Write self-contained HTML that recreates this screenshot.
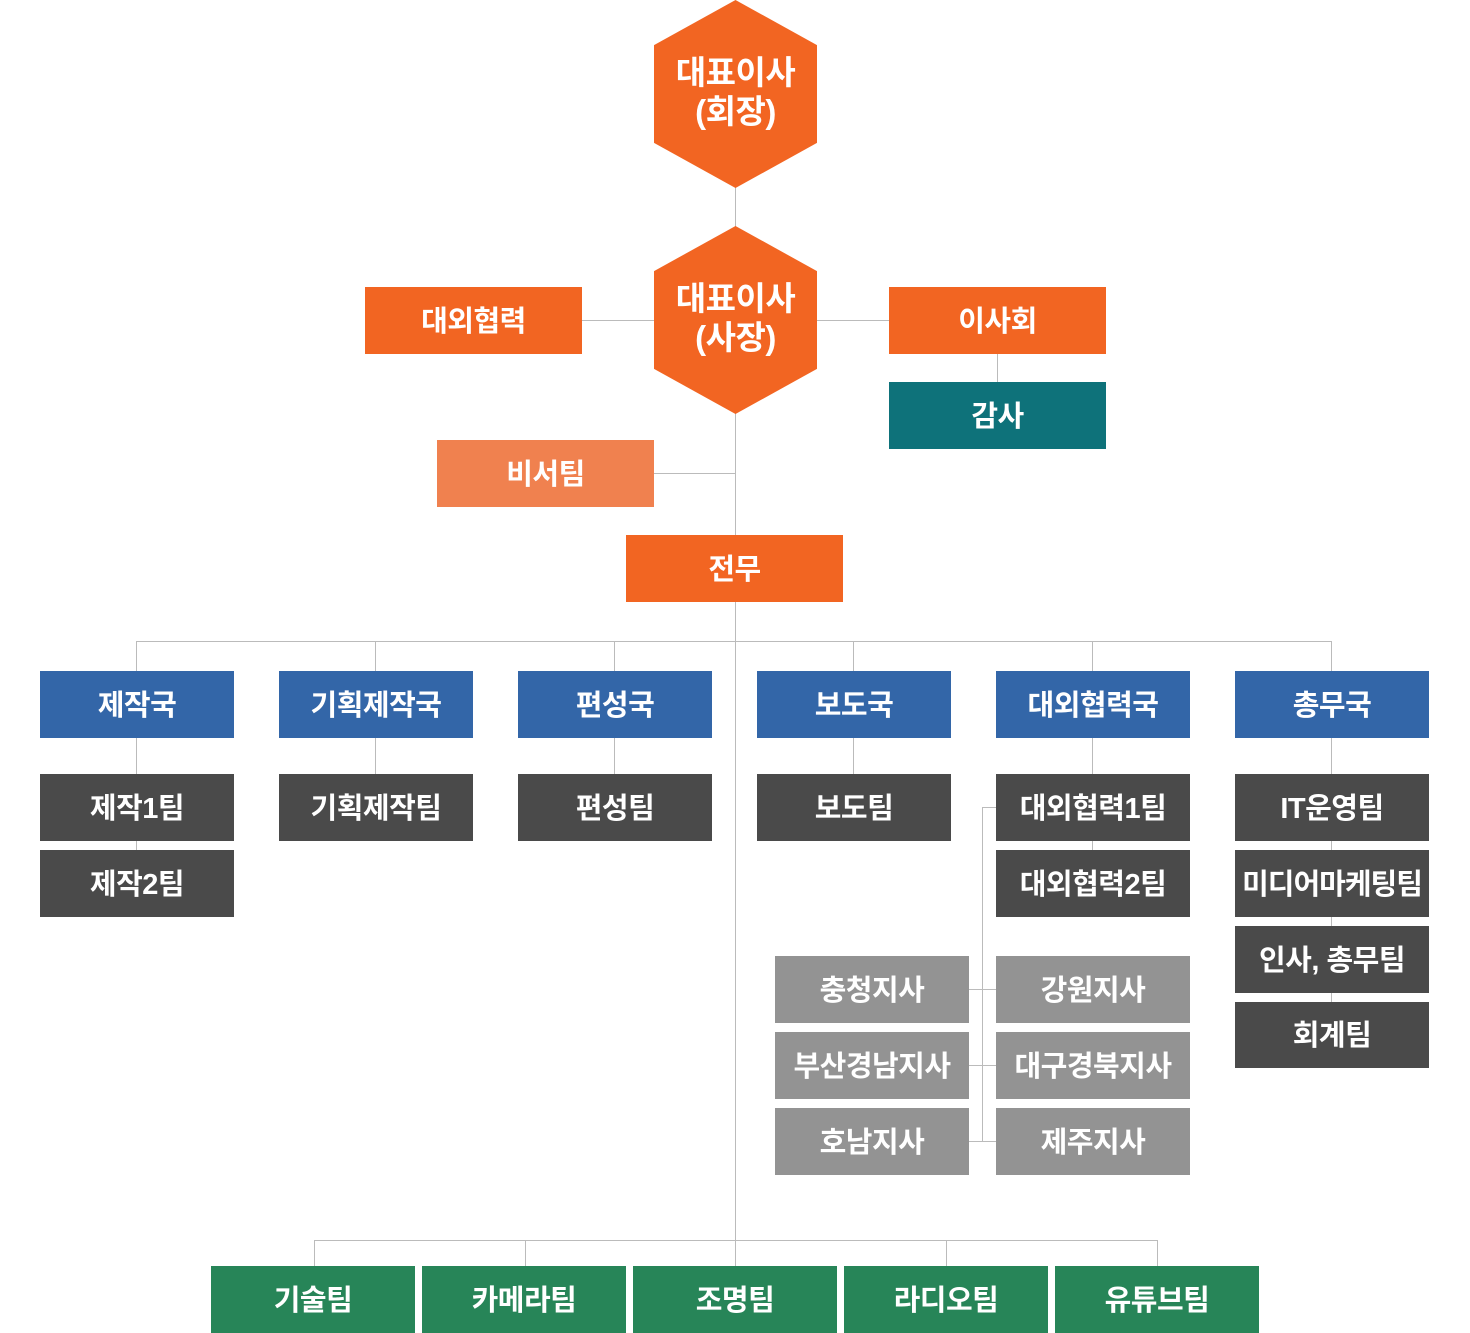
<!DOCTYPE html><html><head><meta charset="utf-8"><style>
body{margin:0;width:1470px;height:1333px;background:#fff;position:relative;overflow:hidden;font-family:"Liberation Sans","Noto Sans CJK KR",sans-serif}
.b{position:absolute;display:flex;align-items:center;justify-content:center;color:#fff;font-weight:bold;font-size:29px;letter-spacing:-0.5px;box-sizing:border-box;padding-bottom:4px}
.l{position:absolute;background:#bbb}
.o{background:#f26522}.lo{background:#f0814f}.t{background:#0e727a}.bl{background:#3366a8}.d{background:#4a4a4a}.g{background:#939393}.gr{background:#278558}
.hx{position:absolute;width:163px;height:188px;background:#f26522;clip-path:polygon(50% 0,100% 24%,100% 76%,50% 100%,0 76%,0 24%);display:flex;align-items:center;justify-content:center;text-align:center;color:#fff;font-weight:bold;font-size:33px;line-height:39px;letter-spacing:-0.5px;box-sizing:border-box;padding-bottom:4px}
</style></head><body>
<div class="l" style="left:735px;top:180px;width:1px;height:1090px"></div>
<div class="l" style="left:582px;top:320px;width:307px;height:1px"></div>
<div class="l" style="left:997px;top:354px;width:1px;height:30px"></div>
<div class="l" style="left:654px;top:473px;width:82px;height:1px"></div>
<div class="l" style="left:136px;top:641px;width:1196px;height:1px"></div>
<div class="l" style="left:136px;top:641px;width:1px;height:210px"></div>
<div class="l" style="left:375px;top:641px;width:1px;height:135px"></div>
<div class="l" style="left:614px;top:641px;width:1px;height:135px"></div>
<div class="l" style="left:853px;top:641px;width:1px;height:135px"></div>
<div class="l" style="left:1092px;top:641px;width:1px;height:210px"></div>
<div class="l" style="left:1331px;top:641px;width:1px;height:365px"></div>
<div class="l" style="left:982px;top:807px;width:1px;height:335px"></div>
<div class="l" style="left:982px;top:807px;width:15px;height:1px"></div>
<div class="l" style="left:969px;top:989px;width:28px;height:1px"></div>
<div class="l" style="left:969px;top:1065px;width:28px;height:1px"></div>
<div class="l" style="left:969px;top:1141px;width:28px;height:1px"></div>
<div class="l" style="left:314px;top:1240px;width:844px;height:1px"></div>
<div class="l" style="left:314px;top:1240px;width:1px;height:30px"></div>
<div class="l" style="left:525px;top:1240px;width:1px;height:30px"></div>
<div class="l" style="left:946px;top:1240px;width:1px;height:30px"></div>
<div class="l" style="left:1157px;top:1240px;width:1px;height:30px"></div>

<div class="hx" style="left:654px;top:0">대표이사<br>(회장)</div>
<div class="hx" style="left:654px;top:226px">대표이사<br>(사장)</div>
<div class="b o" style="left:365px;top:287px;width:217px;height:67px">대외협력</div>
<div class="b o" style="left:889px;top:287px;width:217px;height:67px">이사회</div>
<div class="b t" style="left:889px;top:382px;width:217px;height:67px">감사</div>
<div class="b lo" style="left:437px;top:440px;width:217px;height:67px">비서팀</div>
<div class="b o" style="left:626px;top:535px;width:217px;height:67px">전무</div>

<div class="b bl" style="left:40px;top:671px;width:194px;height:67px">제작국</div>
<div class="b bl" style="left:279px;top:671px;width:194px;height:67px">기획제작국</div>
<div class="b bl" style="left:518px;top:671px;width:194px;height:67px">편성국</div>
<div class="b bl" style="left:757px;top:671px;width:194px;height:67px">보도국</div>
<div class="b bl" style="left:996px;top:671px;width:194px;height:67px">대외협력국</div>
<div class="b bl" style="left:1235px;top:671px;width:194px;height:67px">총무국</div>

<div class="b d" style="left:40px;top:774px;width:194px;height:67px">제작1팀</div>
<div class="b d" style="left:40px;top:850px;width:194px;height:67px">제작2팀</div>
<div class="b d" style="left:279px;top:774px;width:194px;height:67px">기획제작팀</div>
<div class="b d" style="left:518px;top:774px;width:194px;height:67px">편성팀</div>
<div class="b d" style="left:757px;top:774px;width:194px;height:67px">보도팀</div>
<div class="b d" style="left:996px;top:774px;width:194px;height:67px">대외협력1팀</div>
<div class="b d" style="left:996px;top:850px;width:194px;height:67px">대외협력2팀</div>
<div class="b d" style="left:1235px;top:774px;width:194px;height:67px">IT운영팀</div>
<div class="b d" style="left:1235px;top:850px;width:194px;height:67px;letter-spacing:-1px">미디어마케팅팀</div>
<div class="b d" style="left:1235px;top:926px;width:194px;height:67px">인사, 총무팀</div>
<div class="b d" style="left:1235px;top:1002px;width:194px;height:66px">회계팀</div>

<div class="b g" style="left:775px;top:956px;width:194px;height:67px">충청지사</div>
<div class="b g" style="left:775px;top:1032px;width:194px;height:67px">부산경남지사</div>
<div class="b g" style="left:775px;top:1108px;width:194px;height:67px">호남지사</div>
<div class="b g" style="left:996px;top:956px;width:194px;height:67px">강원지사</div>
<div class="b g" style="left:996px;top:1032px;width:194px;height:67px">대구경북지사</div>
<div class="b g" style="left:996px;top:1108px;width:194px;height:67px">제주지사</div>

<div class="b gr" style="left:211px;top:1266px;width:204px;height:67px">기술팀</div>
<div class="b gr" style="left:422px;top:1266px;width:204px;height:67px">카메라팀</div>
<div class="b gr" style="left:633px;top:1266px;width:204px;height:67px">조명팀</div>
<div class="b gr" style="left:844px;top:1266px;width:204px;height:67px">라디오팀</div>
<div class="b gr" style="left:1055px;top:1266px;width:204px;height:67px">유튜브팀</div>
</body></html>
